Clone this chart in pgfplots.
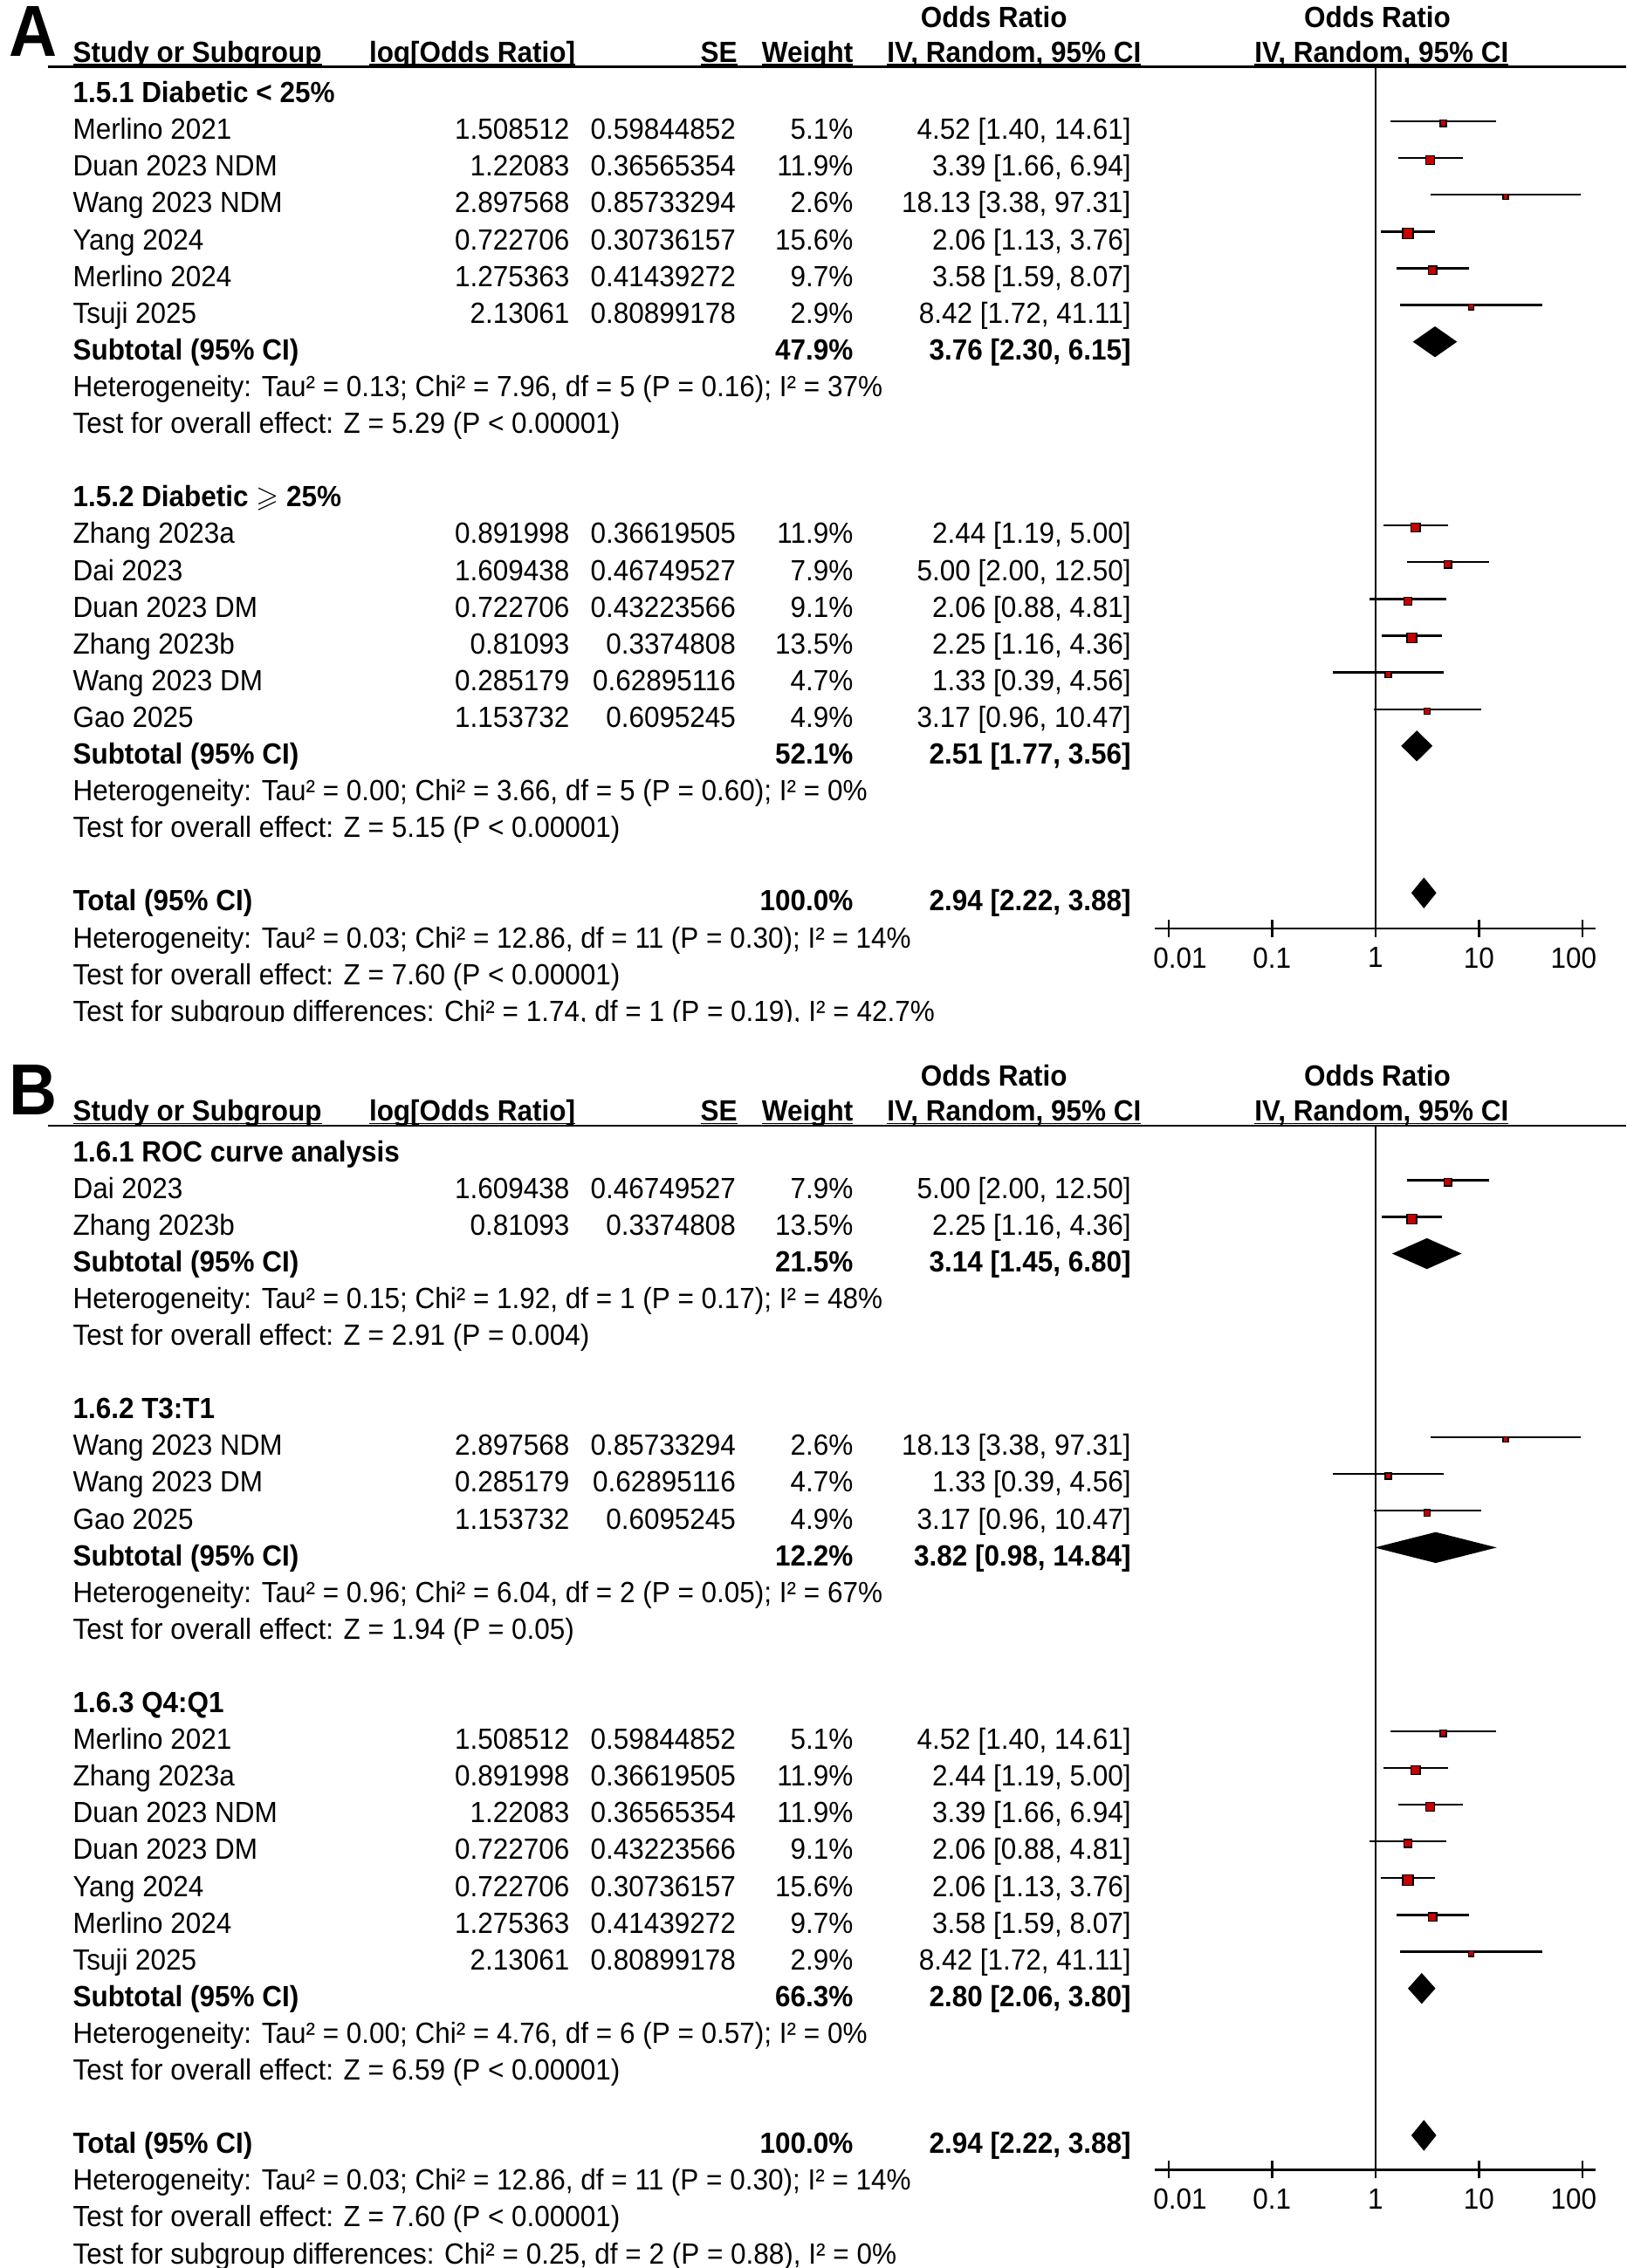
\documentclass[border=0pt]{standalone}
\usepackage{pgfplots}
\pgfplotsset{compat=1.18}
\usepackage{pgfplotstable}
\usepackage{fontspec}
\usepackage{amssymb}
\setmainfont{Liberation Sans}[FakeStretch=0.94]
\newfontfamily\panelfont{Liberation Sans}[FakeStretch=0.92]
\definecolor{boxred}{RGB}{198,0,0}

% y = -row, odds ratio with 95% CI, weight in %
\pgfplotstableread{
y   or     lo    hi     w
-1  4.52   1.40  14.61  5.1
-2  3.39   1.66  6.94   11.9
-3  18.13  3.38  97.31  2.6
-4  2.06   1.13  3.76   15.6
-5  3.58   1.59  8.07   9.7
-6  8.42   1.72  41.11  2.9
-12 2.44   1.19  5.00   11.9
-13 5.00   2.00  12.50  7.9
-14 2.06   0.88  4.81   9.1
-15 2.25   1.16  4.36   13.5
-16 1.33   0.39  4.56   4.7
-17 3.17   0.96  10.47  4.9
}\tabA
\pgfplotstableread{
y   or     lo    hi     w
-1  5.00   2.00  12.50  7.9
-2  2.25   1.16  4.36   13.5
-8  18.13  3.38  97.31  2.6
-9  1.33   0.39  4.56   4.7
-10 3.17   0.96  10.47  4.9
-16 4.52   1.40  14.61  5.1
-17 2.44   1.19  5.00   11.9
-18 3.39   1.66  6.94   11.9
-19 2.06   0.88  4.81   9.1
-20 2.06   1.13  3.76   15.6
-21 3.58   1.59  8.07   9.7
-22 8.42   1.72  41.11  2.9
}\tabB

\newcommand\yoff{0}
\newcommand\yb[1]{\yoff+71+25.4*#1}
\newcommand\ulin[1]{\setbox0\hbox{#1}\rlap{\rule[-1.0pt]{\wd0}{0.5pt}}\box0}
\newcommand\panelhead[1]{%
  \node[anchor=base west, font=\panelfont\fontsize{25pt}{27pt}\selectfont\bfseries] at (6,{\yoff+39}) {#1};
  \node[anchor=base, font=\bfseries] at (687,{\yoff+19}) {Odds Ratio};
  \node[anchor=base, font=\bfseries] at (952,{\yoff+19}) {Odds Ratio};
  \node[anchor=base west, font=\bfseries] at (50,{\yoff+43.2}) {\ulin{Study or Subgroup}};
  \node[anchor=base east, font=\bfseries] at (398,{\yoff+43.2}) {\ulin{log[Odds Ratio]}};
  \node[anchor=base east, font=\bfseries] at (510,{\yoff+43.2}) {\ulin{SE}};
  \node[anchor=base east, font=\bfseries] at (590,{\yoff+43.2}) {\ulin{Weight}};
  \node[anchor=base, font=\bfseries] at (701,{\yoff+43.2}) {\ulin{IV, Random, 95\% CI}};
  \node[anchor=base, font=\bfseries] at (955,{\yoff+43.2}) {\ulin{IV, Random, 95\% CI}};
  \draw[line width=0.75pt] (33,{\yoff+46.3}) -- (1124,{\yoff+46.3});}
\newcommand\study[6]{%
  \node[anchor=base west] at (50,{\yb{#1}}) {#2};
  \node[anchor=base east] at (394,{\yb{#1}}) {#3};
  \node[anchor=base east] at (509,{\yb{#1}}) {#4};
  \node[anchor=base east] at (590,{\yb{#1}}) {#5\%};
  \node[anchor=base east] at (782,{\yb{#1}}) {#6};}
\newcommand\subtot[4]{%
  \node[anchor=base west, font=\bfseries] at (50,{\yb{#1}}) {#2};
  \node[anchor=base east, font=\bfseries] at (590,{\yb{#1}}) {#3\%};
  \node[anchor=base east, font=\bfseries] at (782,{\yb{#1}}) {#4};}
\newcommand\txtrow[2]{\node[anchor=base west] at (50,{\yb{#1}}) {#2};}
\newcommand\boldrow[2]{\node[anchor=base west, font=\bfseries] at (50,{\yb{#1}}) {#2};}

\begin{document}
\fontsize{10.1pt}{12pt}\selectfont
\begin{tikzpicture}
\useasboundingbox (0,0) rectangle (562pt,-784pt);
\clip (0,0) rectangle (562pt,-784pt);

% panel A forest
\begin{axis}[at={(399pt,-321pt)}, anchor=south west,
    xmode=log, scale only axis, width=152.5pt, height=297.85pt, clip=false,
    xmin=0.00731, xmax=134.9, ymin=-22.972, ymax=0.48,
    axis x line=bottom, axis y line=none,
    axis line style={line width=0.75pt, -},
    xtick={0.01,0.1,1,10,100},
    xticklabels={\hspace*{8pt}0.01,0.1,1,10,100\hspace*{6pt}},
    xminorticks=false, tick align=center, major tick length=6pt,
    tick style={black, line width=0.75pt}]
  \addplot[black, line width=0.7pt] coordinates {(1,0.48) (1,-22.972)};
  \addplot[draw=none, no markers,
    error bars/x dir=both, error bars/x explicit, error bars/error mark=none,
    error bars/error bar style={draw=black, solid, line width=0.7pt}]
    table[x=or, y=y, x error plus expr=\thisrow{hi}-\thisrow{or},
    x error minus expr=\thisrow{or}-\thisrow{lo}] {\tabA};
  \addplot[scatter, only marks, mark=square*, mark options={yshift=-0.7pt},
    scatter/use mapped color={draw=none, fill=boxred},
    visualization depends on={\thisrow{w} \as \wt},
    scatter/@pre marker code/.append style={/tikz/mark size=0.75+0.0675*\wt}]
    table[x=or, y=y] {\tabA};
  \addplot[fill=black, draw=none] coordinates {(2.30,-7) (3.76,-6.58) (6.15,-7) (3.76,-7.42)} --cycle;
  \addplot[fill=black, draw=none] coordinates {(1.77,-18) (2.51,-17.58) (3.56,-18) (2.51,-18.42)} --cycle;
  \addplot[fill=black, draw=none] coordinates {(2.22,-22) (2.94,-21.58) (3.88,-22) (2.94,-22.42)} --cycle;
\end{axis}

% panel B forest
\begin{axis}[at={(399pt,-750pt)}, anchor=south west,
    xmode=log, scale only axis, width=152.5pt, height=360.85pt, clip=false,
    xmin=0.00731, xmax=134.9, ymin=-27.933, ymax=0.48,
    axis x line=bottom, axis y line=none,
    axis line style={line width=0.75pt, -},
    xtick={0.01,0.1,1,10,100},
    xticklabels={\hspace*{8pt}0.01,0.1,1,10,100\hspace*{6pt}},
    xminorticks=false, tick align=center, major tick length=6pt,
    tick style={black, line width=0.75pt}]
  \addplot[black, line width=0.7pt] coordinates {(1,0.48) (1,-27.933)};
  \addplot[draw=none, no markers,
    error bars/x dir=both, error bars/x explicit, error bars/error mark=none,
    error bars/error bar style={draw=black, solid, line width=0.7pt}]
    table[x=or, y=y, x error plus expr=\thisrow{hi}-\thisrow{or},
    x error minus expr=\thisrow{or}-\thisrow{lo}] {\tabB};
  \addplot[scatter, only marks, mark=square*, mark options={yshift=-0.7pt},
    scatter/use mapped color={draw=none, fill=boxred},
    visualization depends on={\thisrow{w} \as \wt},
    scatter/@pre marker code/.append style={/tikz/mark size=0.75+0.0675*\wt}]
    table[x=or, y=y] {\tabB};
  \addplot[fill=black, draw=none] coordinates {(1.45,-3) (3.14,-2.58) (6.80,-3) (3.14,-3.42)} --cycle;
  \addplot[fill=black, draw=none] coordinates {(0.98,-11) (3.82,-10.58) (14.84,-11) (3.82,-11.42)} --cycle;
  \addplot[fill=black, draw=none] coordinates {(2.06,-23) (2.80,-22.58) (3.80,-23) (2.80,-23.42)} --cycle;
  \addplot[fill=black, draw=none] coordinates {(2.22,-27) (2.94,-26.58) (3.88,-27) (2.94,-27.42)} --cycle;
\end{axis}

\begin{scope}[x=0.5pt, y=-0.5pt, every node/.style={inner sep=0pt}]
\panelhead{A}
\boldrow{0}{1.5.1 Diabetic < 25\%}
\study{1}{Merlino 2021}{1.508512}{0.59844852}{5.1}{4.52 [1.40, 14.61]}
\study{2}{Duan 2023 NDM}{1.22083}{0.36565354}{11.9}{3.39 [1.66, 6.94]}
\study{3}{Wang 2023 NDM}{2.897568}{0.85733294}{2.6}{18.13 [3.38, 97.31]}
\study{4}{Yang 2024}{0.722706}{0.30736157}{15.6}{2.06 [1.13, 3.76]}
\study{5}{Merlino 2024}{1.275363}{0.41439272}{9.7}{3.58 [1.59, 8.07]}
\study{6}{Tsuji 2025}{2.13061}{0.80899178}{2.9}{8.42 [1.72, 41.11]}
\subtot{7}{Subtotal (95\% CI)}{47.9}{3.76 [2.30, 6.15]}
\txtrow{8}{Heterogeneity: Tau² = 0.13; Chi² = 7.96, df = 5 (P = 0.16); I² = 37\%}
\txtrow{9}{Test for overall effect: Z = 5.29 (P < 0.00001)}
\boldrow{11}{1.5.2 Diabetic $\geqslant$ 25\%}
\study{12}{Zhang 2023a}{0.891998}{0.36619505}{11.9}{2.44 [1.19, 5.00]}
\study{13}{Dai 2023}{1.609438}{0.46749527}{7.9}{5.00 [2.00, 12.50]}
\study{14}{Duan 2023 DM}{0.722706}{0.43223566}{9.1}{2.06 [0.88, 4.81]}
\study{15}{Zhang 2023b}{0.81093}{0.3374808}{13.5}{2.25 [1.16, 4.36]}
\study{16}{Wang 2023 DM}{0.285179}{0.62895116}{4.7}{1.33 [0.39, 4.56]}
\study{17}{Gao 2025}{1.153732}{0.6095245}{4.9}{3.17 [0.96, 10.47]}
\subtot{18}{Subtotal (95\% CI)}{52.1}{2.51 [1.77, 3.56]}
\txtrow{19}{Heterogeneity: Tau² = 0.00; Chi² = 3.66, df = 5 (P = 0.60); I² = 0\%}
\txtrow{20}{Test for overall effect: Z = 5.15 (P < 0.00001)}
\subtot{22}{Total (95\% CI)}{100.0}{2.94 [2.22, 3.88]}
\txtrow{23}{Heterogeneity: Tau² = 0.03; Chi² = 12.86, df = 11 (P = 0.30); I² = 14\%}
\txtrow{24}{Test for overall effect: Z = 7.60 (P < 0.00001)}
\txtrow{25}{Test for subgroup differences: Chi² = 1.74, df = 1 (P = 0.19), I² = 42.7\%}
\fill[white] (0,706.5) rectangle (1124,728);

\renewcommand\yoff{732}
\panelhead{B}
\boldrow{0}{1.6.1 ROC curve analysis}
\study{1}{Dai 2023}{1.609438}{0.46749527}{7.9}{5.00 [2.00, 12.50]}
\study{2}{Zhang 2023b}{0.81093}{0.3374808}{13.5}{2.25 [1.16, 4.36]}
\subtot{3}{Subtotal (95\% CI)}{21.5}{3.14 [1.45, 6.80]}
\txtrow{4}{Heterogeneity: Tau² = 0.15; Chi² = 1.92, df = 1 (P = 0.17); I² = 48\%}
\txtrow{5}{Test for overall effect: Z = 2.91 (P = 0.004)}
\boldrow{7}{1.6.2 T3:T1}
\study{8}{Wang 2023 NDM}{2.897568}{0.85733294}{2.6}{18.13 [3.38, 97.31]}
\study{9}{Wang 2023 DM}{0.285179}{0.62895116}{4.7}{1.33 [0.39, 4.56]}
\study{10}{Gao 2025}{1.153732}{0.6095245}{4.9}{3.17 [0.96, 10.47]}
\subtot{11}{Subtotal (95\% CI)}{12.2}{3.82 [0.98, 14.84]}
\txtrow{12}{Heterogeneity: Tau² = 0.96; Chi² = 6.04, df = 2 (P = 0.05); I² = 67\%}
\txtrow{13}{Test for overall effect: Z = 1.94 (P = 0.05)}
\boldrow{15}{1.6.3 Q4:Q1}
\study{16}{Merlino 2021}{1.508512}{0.59844852}{5.1}{4.52 [1.40, 14.61]}
\study{17}{Zhang 2023a}{0.891998}{0.36619505}{11.9}{2.44 [1.19, 5.00]}
\study{18}{Duan 2023 NDM}{1.22083}{0.36565354}{11.9}{3.39 [1.66, 6.94]}
\study{19}{Duan 2023 DM}{0.722706}{0.43223566}{9.1}{2.06 [0.88, 4.81]}
\study{20}{Yang 2024}{0.722706}{0.30736157}{15.6}{2.06 [1.13, 3.76]}
\study{21}{Merlino 2024}{1.275363}{0.41439272}{9.7}{3.58 [1.59, 8.07]}
\study{22}{Tsuji 2025}{2.13061}{0.80899178}{2.9}{8.42 [1.72, 41.11]}
\subtot{23}{Subtotal (95\% CI)}{66.3}{2.80 [2.06, 3.80]}
\txtrow{24}{Heterogeneity: Tau² = 0.00; Chi² = 4.76, df = 6 (P = 0.57); I² = 0\%}
\txtrow{25}{Test for overall effect: Z = 6.59 (P < 0.00001)}
\subtot{27}{Total (95\% CI)}{100.0}{2.94 [2.22, 3.88]}
\txtrow{28}{Heterogeneity: Tau² = 0.03; Chi² = 12.86, df = 11 (P = 0.30); I² = 14\%}
\txtrow{29}{Test for overall effect: Z = 7.60 (P < 0.00001)}
\txtrow{30}{Test for subgroup differences: Chi² = 0.25, df = 2 (P = 0.88), I² = 0\%}
\end{scope}
\end{tikzpicture}
\end{document}
